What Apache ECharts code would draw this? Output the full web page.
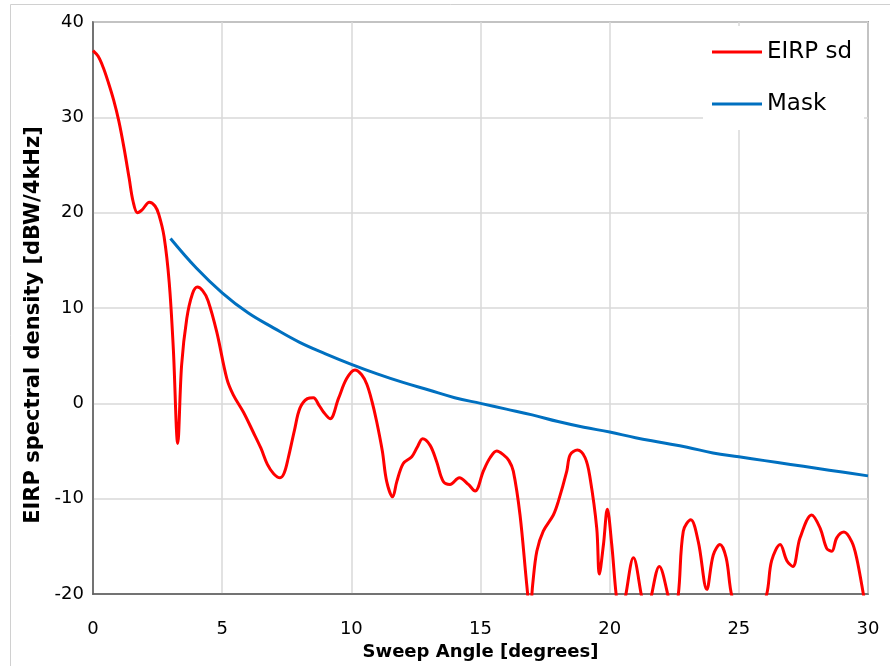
<!DOCTYPE html>
<html>
<head>
<meta charset="utf-8">
<script src="https://cdn.jsdelivr.net/npm/echarts@6/dist/echarts.min.js"></script>
<style>
html,body{margin:0;padding:0;background:#fff;}
#chart{width:890px;height:666px;}
</style>
</head>
<body>
<div id="chart"></div>
<script>
// Sweep angle [degrees] for the EIRP sd curve
const eirpAngles = [0,0.2,0.4,0.6,0.8,1.0,1.2,1.4,1.55,1.72,1.9,2.18,2.4,2.55,2.75,2.95,3.11,3.28,3.43,3.63,3.85,4.04,4.25,4.45,4.79,5.18,5.43,5.82,6.2,6.5,6.75,7.0,7.24,7.4,7.56,7.8,8.01,8.3,8.53,8.75,8.92,9.18,9.5,9.82,10.14,10.4,10.6,10.8,10.98,11.2,11.37,11.6,11.76,12.01,12.34,12.55,12.76,13.05,13.3,13.56,13.82,14.18,14.53,14.79,15.11,15.37,15.63,15.89,16.1,16.27,16.53,16.79,16.92,17.02,17.18,17.43,17.82,18.01,18.34,18.47,18.75,19.05,19.24,19.5,19.6,19.76,19.91,20.08,20.27,20.45,20.63,20.92,21.24,21.45,21.63,21.92,22.27,22.45,22.66,22.85,23.14,23.43,23.76,24.01,24.27,24.51,24.73,25.4,26.08,26.27,26.6,26.86,27.09,27.37,27.82,28.15,28.4,28.6,28.79,29.07,29.37,29.56,29.82,30];
// EIRP spectral density [dBW/4kHz]
const eirpValues = [37.0,36.4,35.2,33.6,31.8,29.6,26.8,23.6,21.2,20.0,20.3,21.1,20.7,19.8,17.5,12.7,5.7,-4.2,4.0,8.9,11.5,12.2,11.8,10.8,7.5,2.6,0.9,-0.9,-3.0,-4.7,-6.4,-7.4,-7.8,-7.3,-5.7,-2.8,-0.5,0.5,0.6,-0.2,-0.9,-1.6,0.5,2.6,3.5,3.0,2.0,0.2,-1.9,-5.0,-8.2,-9.8,-8.2,-6.3,-5.6,-4.6,-3.7,-4.4,-6.1,-8.2,-8.5,-7.8,-8.5,-9.2,-7.1,-5.7,-5.0,-5.4,-6.0,-7.1,-11.7,-19.0,-22,-19.0,-15.5,-13.4,-11.7,-10.3,-7.1,-5.4,-4.9,-5.7,-7.8,-13.1,-17.9,-14.8,-11.1,-14.8,-20.5,-23,-20,-16.2,-20.3,-23,-20,-17.1,-20.3,-23,-20,-13.4,-12.2,-14.5,-19.5,-15.9,-14.8,-16.2,-20.2,-26,-20,-16.5,-14.8,-16.5,-17.1,-14.1,-11.7,-13.1,-15.2,-15.5,-14.1,-13.5,-14.5,-16.2,-20,-23];
// Mask
const maskAngles = [3,4,5,6,7,8,9,10,11,12,13,14,15,16,17,18,19,20,21,22,23,24,25,26,27,28,29,30];
const maskValues = [17.3,14.2,11.6,9.5,7.9,6.4,5.2,4.1,3.1,2.2,1.4,0.6,0.0,-0.6,-1.2,-1.9,-2.5,-3.0,-3.6,-4.1,-4.6,-5.2,-5.6,-6.0,-6.4,-6.8,-7.2,-7.6];
const xTicks = [0,5,10,15,20,25,30];
const yTicks = [-20,-10,0,10,20,30,40];
const seriesNames = ['EIRP sd','Mask'];
const xTitle = 'Sweep Angle [degrees]';
const yTitle = 'EIRP spectral density [dBW/4kHz]';

const FONT = '"DejaVu Sans", sans-serif';
const chart = echarts.init(document.getElementById('chart'), null, {renderer:'canvas'});
chart.setOption({
  backgroundColor:'#ffffff',
  animation:false,
  graphic:[{type:'rect', shape:{x:10.5,y:4.5,width:900,height:700}, style:{fill:'none', stroke:'#d0d0d0', lineWidth:1}, silent:true, z:-10}],
  grid:{left:93,right:22,top:22,bottom:69,show:true,borderColor:'#595959',borderWidth:1.5,backgroundColor:'#fff'},
  legend:{
    orient:'vertical', left:703, top:26, backgroundColor:'#ffffff',
    padding:[14,12,14,9], itemWidth:50, itemHeight:3, itemGap:28, icon:'rect',
    textStyle:{fontFamily:FONT, fontSize:23, color:'#000', lineHeight:24},
    data:seriesNames
  },
  xAxis:{
    type:'value', min:xTicks[0], max:xTicks[xTicks.length-1], interval:5,
    name:xTitle, nameLocation:'middle', nameGap:46,
    nameTextStyle:{fontFamily:FONT, fontSize:18, fontWeight:'bold', color:'#000'},
    axisLine:{show:true,onZero:false,lineStyle:{color:'#595959',width:1.5}},
    axisTick:{show:false},
    axisLabel:{fontFamily:FONT, fontSize:18, color:'#000', margin:26},
    splitLine:{show:true,lineStyle:{color:'#d9d9d9',width:1.5}}
  },
  yAxis:{
    type:'value', min:yTicks[0], max:yTicks[yTicks.length-1], interval:10,
    name:yTitle, nameLocation:'middle', nameGap:46, nameRotate:90,
    nameTextStyle:{fontFamily:FONT, fontSize:21, fontWeight:'bold', color:'#000', padding:[0,34,0,0]},
    axisLine:{show:true,onZero:false,lineStyle:{color:'#595959',width:1.5}},
    axisTick:{show:false},
    axisLabel:{fontFamily:FONT, fontSize:18, color:'#000', margin:9},
    splitLine:{show:true,lineStyle:{color:'#d9d9d9',width:1.5}}
  },
  series:[
    {name:seriesNames[0], type:'line', smooth:0.35, symbol:'none', clip:true,
     lineStyle:{color:'#ff0000',width:3}, itemStyle:{color:'#ff0000'},
     data:eirpAngles.map((a,i)=>[a,eirpValues[i]])},
    {name:seriesNames[1], type:'line', smooth:0.4, symbol:'none', clip:true,
     lineStyle:{color:'#0070c0',width:3}, itemStyle:{color:'#0070c0'},
     data:maskAngles.map((a,i)=>[a,maskValues[i]])}
  ]
});
</script>
</body>
</html>
